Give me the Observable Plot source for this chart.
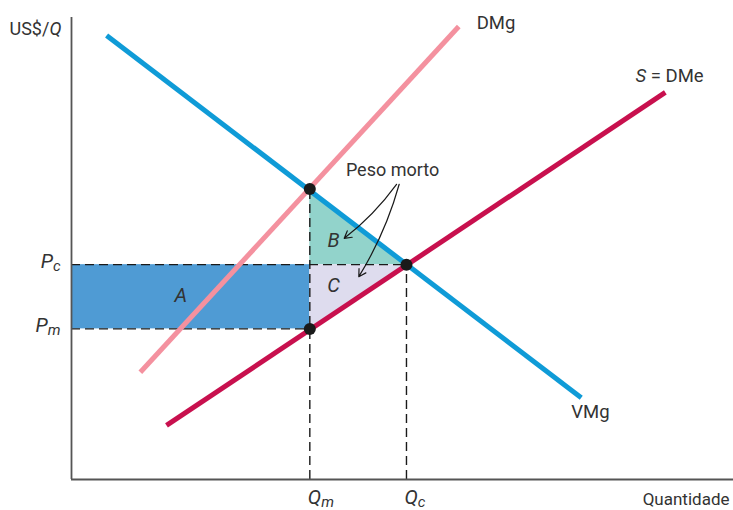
<!DOCTYPE html>
<html><head><meta charset="utf-8">
<script src="https://cdn.jsdelivr.net/npm/d3@7"></script>
<script src="https://cdn.jsdelivr.net/npm/@observablehq/plot@0.6"></script>
<style>
body{margin:0;background:#fff;}
</style></head><body><div id="chart"></div>
<script>
// Key quantities / prices (arbitrary units 0–100)
const Qm = 36, Qc = 50.6;
const Pm = 32.6, Pc = 46.5;
const vmgAtQm = 62.9;

// Curves (end points)
const vmgQ = [5.3, 77.0],    vmgP = [96.1, 17.7];     // VMg (demand)
const supplyQ = [14.35, 89.7], supplyP = [11.7, 83.8]; // S = DMe
const dmgQ = [10.4, 58.5],   dmgP = [23.2, 98.05];     // DMg

// Tick labels
const qTickValues = [Qm, Qc], qTickLabels = ["*Q*_m", "*Q*_c"];
const pTickValues = [Pc, Pm], pTickLabels = ["*P*_c", "*P*_m"];

// Curve labels
const curveLabels = ["DMg", "*S* = DMe", "VMg"];
const curveLabelQ = [61.2, 85.2, 75.5];
const curveLabelP = [98.9, 87.4, 14.5];

// Area labels
const areaLabels = ["*A*", "*B*", "*C*"];
const areaLabelQ = [16.5, 39.6, 39.6];
const areaLabelP = [39.8, 51.7, 42.0];

// "Peso morto" annotation
const noteText = ["Peso morto"], noteQ = [48.5], noteP = [66.9];
const arrowFromQ = [49.1, 49.5], arrowFromP = [63.9, 63.9];
const arrowToQ = [41.2, 43.4],   arrowToP = [52.2, 43.9];

const line = (qs, ps) => qs.map((q, i) => ({q, p: ps[i]}));
const zipLabels = (t, qs, ps) => t.map((text, i) => ({text, q: qs[i], p: ps[i]}));

const rectA = [{q1: 0, q2: Qm, p1: Pm, p2: Pc}];
const triB = [{q: Qm, lo: Pc, hi: vmgAtQm}, {q: Qc, lo: Pc, hi: Pc}];
const triC = [{q: Qm, lo: Pm, hi: Pc}, {q: Qc, lo: Pc, hi: Pc}];
const dots = [{q: Qm, p: vmgAtQm}, {q: Qc, p: Pc}, {q: Qm, p: Pm}];
const arrows = arrowFromQ.map((q, i) => ({q1: q, p1: arrowFromP[i], q2: arrowToQ[i], p2: arrowToP[i]}));

const dash = {stroke: "#1a1a1a", strokeWidth: 1.4, strokeDasharray: "9,5"};
const curve = {x: "q", y: "p", strokeWidth: 5, strokeLinecap: "butt"};

const chart = Plot.plot({
  width: 733, height: 510,
  marginLeft: 71, marginRight: 0, marginTop: 17, marginBottom: 31,
  x: {domain: [0, 100], axis: null},
  y: {domain: [0, 100], axis: null},
  style: {fontFamily: "Roboto, sans-serif", fontSize: "18px", color: "#333", background: "white", overflow: "visible"},
  marks: [
    Plot.rect(rectA, {x1: "q1", x2: "q2", y1: "p1", y2: "p2", fill: "#4f9bd4"}),
    Plot.areaY(triB, {x: "q", y1: "lo", y2: "hi", fill: "#92d3cb"}),
    Plot.areaY(triC, {x: "q", y1: "lo", y2: "hi", fill: "#dedcee"}),
    Plot.ruleY([Pc], {x1: 0, x2: Qc, ...dash}),
    Plot.ruleY([Pm], {x1: 0, x2: Qm, ...dash}),
    Plot.ruleX([Qm], {y1: 0, y2: vmgAtQm, ...dash}),
    Plot.ruleX([Qc], {y1: 0, y2: Pc, ...dash}),
    Plot.ruleX([0], {stroke: "#555", strokeWidth: 1.8}),
    Plot.ruleY([0], {stroke: "#555", strokeWidth: 1.8}),
    Plot.line(line(dmgQ, dmgP), {...curve, stroke: "#f4919f"}),
    Plot.line(line(vmgQ, vmgP), {...curve, stroke: "#0f9bd7"}),
    Plot.line(line(supplyQ, supplyP), {...curve, stroke: "#c8104e"}),
    Plot.dot(dots, {x: "q", y: "p", r: 6, fill: "#1a1a1a"}),
    // tick labels
    Plot.text(qTickValues.map((q, i) => ({q, text: qTickLabels[i]})),
      {x: "q", y: () => 0, text: "text", textAnchor: "start", dx: -2, dy: 18, fontSize: 20, fill: "#333"}),
    Plot.text(pTickValues.map((p, i) => ({p, text: pTickLabels[i]})),
      {x: () => 0, y: "p", text: "text", textAnchor: "end", dx: -11, dy: -3, fontSize: 20, fill: "#333"}),
    // axis titles
    Plot.text(["US$/*Q*"], {frameAnchor: "top-left", textAnchor: "start", lineAnchor: "middle", dx: -62, dy: 12, fontSize: 18, fill: "#333"}),
    Plot.text(["Quantidade"], {frameAnchor: "bottom-right", textAnchor: "end", lineAnchor: "middle", dx: -4, dy: 20.5, fontSize: 17, fill: "#333"}),
    // curve labels
    Plot.text(zipLabels(curveLabels, curveLabelQ, curveLabelP), {x: "q", y: "p", text: "text", textAnchor: "start", fontSize: 18.5, fill: "#333"}),
    Plot.text(zipLabels(areaLabels, areaLabelQ, areaLabelP), {x: "q", y: "p", text: "text", textAnchor: "middle", fontSize: 20, fill: "#333"}),
    Plot.text(zipLabels(noteText, noteQ, noteP), {x: "q", y: "p", text: "text", textAnchor: "middle", fontSize: 18, fill: "#333"}),
    Plot.arrow(arrows, {x1: "q1", y1: "p1", x2: "q2", y2: "p2", bend: 8, stroke: "#1a1a1a", strokeWidth: 1.2, headLength: 10})
  ]
});

// Rich text: *x* = italic, _x = italic subscript
function richify(svg) {
  svg.querySelectorAll("text").forEach(t => {
    if (t.querySelector("tspan")) return;
    const s = t.textContent;
    if (!/[*_]/.test(s)) return;
    t.textContent = "";
    const re = /\*([^*]+)\*|_([^\s*_]+)|([^*_]+)/g;
    let m;
    while ((m = re.exec(s))) {
      const ts = document.createElementNS("http://www.w3.org/2000/svg", "tspan");
      if (m[1]) { ts.textContent = m[1]; ts.setAttribute("font-style", "italic"); }
      else if (m[2]) { ts.textContent = m[2]; ts.setAttribute("font-style", "italic"); ts.setAttribute("font-size", "0.75em"); ts.setAttribute("dy", "3"); }
      else { ts.textContent = m[3]; }
      t.appendChild(ts);
    }
  });
}
richify(chart);
document.getElementById("chart").appendChild(chart);
</script></body></html>
